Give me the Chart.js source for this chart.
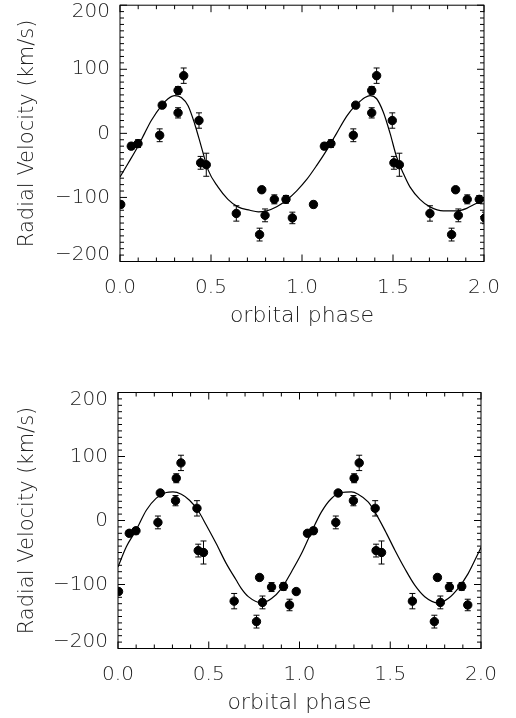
<!DOCTYPE html>
<html>
<head>
<meta charset="utf-8">
<script src="https://cdn.jsdelivr.net/npm/chart.js@4.4.0/dist/chart.umd.min.js"></script>
<style>
html, body { margin: 0; padding: 0; background: #fff; }
canvas { display: block; }
</style>
</head>
<body>
<canvas id="top" width="516" height="359"></canvas>
<canvas id="bottom" width="516" height="359"></canvas>
<script>
// measured radial velocities, folded on two different periods
const topPhase = [0.004, 0.062, 0.099, 0.218, 0.232, 0.319, 0.319, 0.350, 0.434, 0.443, 0.474, 0.639, 0.779, 0.767, 0.797, 0.848, 0.912, 0.947,
                  1.063, 1.123, 1.159, 1.282, 1.295, 1.383, 1.383, 1.410, 1.496, 1.505, 1.535, 1.703, 1.844, 1.822, 1.859, 1.908, 1.974, 2.005];
const topVel   = [-111, -20, -16, -3, 44, 67, 32, 90, 20, -46, -49, -125, -88, -158, -128, -103, -103, -132,
                  -111, -20, -16, -3, 44, 67, 32, 90, 20, -46, -49, -125, -88, -158, -128, -103, -103, -132];
const topErr   = [5, 5, 6, 10, 4, 6, 8, 12, 12, 10, 18, 12, 4, 10, 10, 7, 6, 9,
                  5, 5, 6, 10, 4, 6, 8, 12, 12, 10, 18, 12, 4, 10, 10, 7, 6, 9];

const botPhase = [0.003, 0.062, 0.099, 0.220, 0.233, 0.321, 0.317, 0.347, 0.435, 0.442, 0.471, 0.640, 0.780, 0.763, 0.796, 0.846, 0.912, 0.945, 0.982,
                  1.044, 1.077, 1.200, 1.213, 1.301, 1.297, 1.329, 1.417, 1.422, 1.452, 1.622, 1.760, 1.743, 1.776, 1.826, 1.894, 1.927];
const botVel   = [-111, -20, -16, -3, 43, 66, 31, 90, 19, -47, -50, -126, -89, -158, -128, -104, -103, -132, -111,
                  -20, -16, -3, 43, 66, 31, 90, 19, -47, -50, -126, -89, -158, -128, -104, -103, -132];
const botErr   = [4, 4, 5, 10, 4, 7, 8, 12, 12, 10, 18, 12, 4, 10, 10, 7, 6, 9, 4,
                  4, 5, 10, 4, 7, 8, 12, 12, 10, 18, 12, 4, 10, 10, 7, 6, 9];

// fitted orbit curves
const topCurveX = [0.0, 0.044, 0.099, 0.135, 0.172, 0.227, 0.264, 0.300, 0.337, 0.374, 0.410, 0.447, 0.484, 0.538, 0.593, 0.648, 0.714, 0.760, 0.806, 0.861, 0.916, 0.971,
                   1.026, 1.081, 1.135, 1.190, 1.245, 1.291, 1.319, 1.346, 1.374, 1.410, 1.447, 1.484, 1.520, 1.557, 1.593, 1.648, 1.703, 1.777, 1.850, 1.905, 1.960, 2.0];
const topCurveY = [-68, -47, -20, 0, 20, 43, 54, 59, 56, 43, 15, -21, -57, -83.6, -103, -114.7, -120, -122.5, -121, -114.7, -104, -89.7,
                   -72, -50, -26.5, 0, 26.5, 43, 50, 56, 59, 54, 33, 0, -37, -62.8, -83.6, -103, -114.7, -121, -121, -117, -109, -104];

const botCurveX = [0.0, 0.046, 0.100, 0.156, 0.211, 0.266, 0.303, 0.349, 0.394, 0.440, 0.486, 0.541, 0.596, 0.651, 0.679, 0.718, 0.791, 0.846, 0.901, 0.956,
                   1.011, 1.066, 1.121, 1.176, 1.231, 1.286, 1.323, 1.378, 1.415, 1.470, 1.525, 1.580, 1.635, 1.690, 1.764, 1.819, 1.874, 1.929, 1.984, 2.0];
const botCurveY = [-72.5, -41, -15, 16, 35, 43.7, 44.7, 41, 31.7, 16, -7, -36, -67, -93, -106, -119, -128.7, -122, -106, -80,
                   -51.6, -17.8, 13.5, 34.4, 43.7, 44.7, 41, 29, 13.5, -15, -46, -75, -101, -119, -128.7, -122, -106, -83, -51.6, -42];

const xTicks = [0, 0.5, 1.0, 1.5, 2.0];
const yTicks = [-200, -100, 0, 100, 200];

const FONT = "'DejaVu Sans', sans-serif";
const INK = '#222';

// box + inward ticks on all four sides, IDL style
const frameTicks = {
  id: 'frameTicks',
  afterDraw(chart) {
    const { ctx, chartArea: a, scales: { x, y } } = chart;
    ctx.save();
    ctx.strokeStyle = '#000';
    ctx.lineWidth = 1;
    ctx.strokeRect(a.left, a.top, a.right - a.left, a.bottom - a.top);
    ctx.beginPath();
    for (let i = 0; i <= 20; i++) {
      const px = x.getPixelForValue(i * 0.1);
      const len = i % 5 === 0 ? 7 : 4;
      ctx.moveTo(px, a.bottom); ctx.lineTo(px, a.bottom - len);
      ctx.moveTo(px, a.top); ctx.lineTo(px, a.top + len);
    }
    for (let i = 0; i <= 40; i++) {
      const py = y.getPixelForValue(-200 + i * 10);
      const len = i % 10 === 0 ? 7 : 4;
      ctx.moveTo(a.left, py); ctx.lineTo(a.left + len, py);
      ctx.moveTo(a.right, py); ctx.lineTo(a.right - len, py);
    }
    ctx.stroke();
    ctx.restore();
  }
};

// end labels of the y axis sit inside the box, not centred on the tick
const edgeLabels = {
  id: 'edgeLabels',
  beforeDraw(chart) {
    const items = chart.scales.y.getLabelItems();
    if (items._moved) return;
    items[0].options.translation[1] -= 7;
    items[items.length - 1].options.translation[1] += 7;
    items._moved = true;
  }
};

const errorBars = {
  id: 'errorBars',
  beforeDatasetsDraw(chart) {
    const { ctx, chartArea: a, scales: { x, y } } = chart;
    const pts = chart.data.datasets[1].data;
    ctx.save();
    ctx.beginPath();
    ctx.rect(a.left, a.top, a.right - a.left, a.bottom - a.top);
    ctx.clip();
    ctx.strokeStyle = '#000';
    ctx.lineWidth = 1;
    ctx.beginPath();
    pts.forEach(p => {
      const px = x.getPixelForValue(p.x);
      const y1 = y.getPixelForValue(p.y + p.err);
      const y2 = y.getPixelForValue(p.y - p.err);
      ctx.moveTo(px, y1); ctx.lineTo(px, y2);
      ctx.moveTo(px - 3, y1); ctx.lineTo(px + 3, y1);
      ctx.moveTo(px - 3, y2); ctx.lineTo(px + 3, y2);
    });
    ctx.stroke();
    ctx.restore();
  }
};

function makePanel(id, phase, vel, err, cx, cy, box) {
  const pts = phase.map((p, i) => ({ x: p, y: vel[i], err: err[i] }));
  const curve = cx.map((p, i) => ({ x: p, y: cy[i] }));
  return new Chart(document.getElementById(id), {
    type: 'scatter',
    data: {
      datasets: [
        { type: 'line', data: curve, borderColor: '#000', borderWidth: 1.2, pointRadius: 0,
          fill: false, cubicInterpolationMode: 'monotone', clip: 0 },
        { data: pts, backgroundColor: '#000', borderColor: '#000', pointRadius: 4.2, clip: 0 }
      ]
    },
    options: {
      responsive: false,
      animation: false,
      events: [],
      layout: { padding: { left: 0, top: box.top, right: box.right, bottom: 0 } },
      plugins: { legend: { display: false }, tooltip: { enabled: false } },
      scales: {
        x: {
          type: 'linear', min: 0, max: 2,
          afterBuildTicks: s => { s.ticks = xTicks.map(v => ({ value: v })); },
          afterFit: s => { s.height = box.xh; s.paddingLeft = 0; s.paddingRight = 0; },
          grid: { display: false, drawTicks: false },
          border: { display: false },
          ticks: { color: INK, font: { family: FONT, size: 20, weight: 200 }, padding: 14,
                   maxRotation: 0, callback: v => v.toFixed(1) },
          title: { display: true, text: 'orbital phase', color: INK,
                   font: { family: FONT, size: 22, weight: 200 }, padding: { bottom: box.tb } }
        },
        y: {
          min: -200, max: 200,
          afterBuildTicks: s => { s.ticks = yTicks.map(v => ({ value: v })); },
          afterFit: s => { s.width = box.yw; s.paddingTop = 0; s.paddingBottom = 0; },
          grid: { display: false, drawTicks: false },
          border: { display: false },
          ticks: { color: INK, font: { family: FONT, size: 20, weight: 200 }, padding: 10,
                   callback: v => (v < 0 ? '\u2212' + Math.abs(v) : String(v)) },
          title: { display: true, text: 'Radial Velocity (km/s)', color: INK,
                   font: { family: FONT, size: 21, weight: 200 }, padding: { top: 15 } }
        }
      }
    },
    plugins: [errorBars, edgeLabels, frameTicks]
  });
}

makePanel('top', topPhase, topVel, topErr, topCurveX, topCurveY,
  { top: 4.5, right: 32, yw: 120, xh: 97.5, tb: 30 });
makePanel('bottom', botPhase, botVel, botErr, botCurveX, botCurveY,
  { top: 33.5, right: 35, yw: 118, xh: 69.5, tb: 2 });
</script>
</body>
</html>
